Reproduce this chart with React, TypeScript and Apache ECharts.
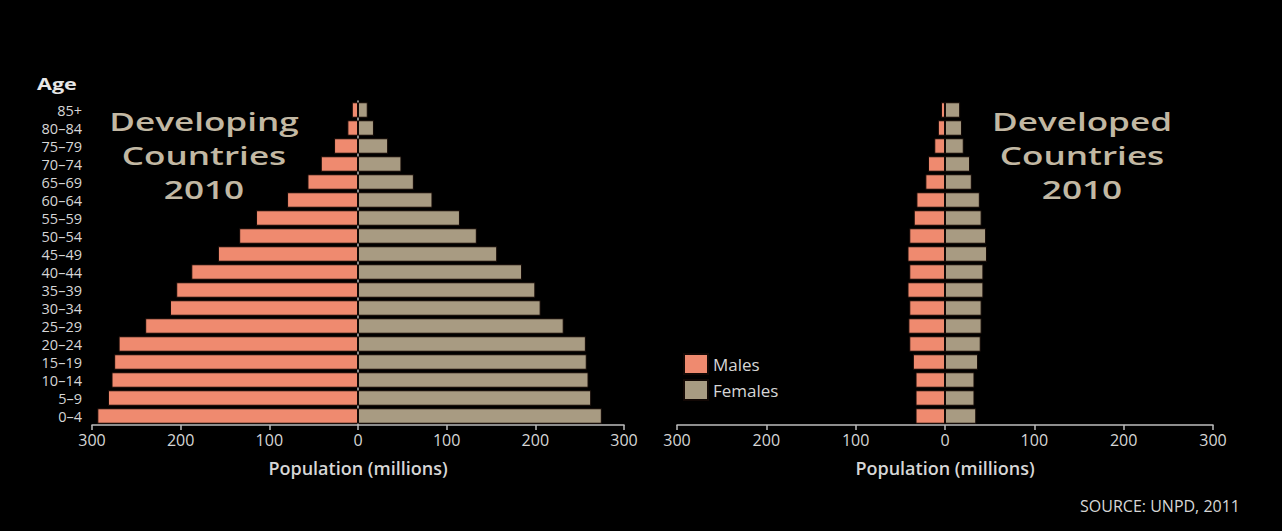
import React, { useEffect, useRef } from "react";
import * as echarts from "echarts";

const ageGroups = ["0–4", "5–9", "10–14", "15–19", "20–24", "25–29", "30–34", "35–39", "40–44", "45–49", "50–54", "55–59", "60–64", "65–69", "70–74", "75–79", "80–84", "85+"];
const developingMales = [294, 282, 278, 275, 270, 240, 212, 205, 188, 158, 134, 115, 80, 57, 42, 27, 12, 7];
const developingFemales = [275, 263, 260, 258, 257, 232, 206, 200, 185, 157, 134, 115, 84, 63, 49, 34, 18, 11];
const developedMales = [33, 33, 33, 36, 40, 41, 40, 42, 40, 42, 40, 35, 32, 22, 19, 12, 8, 4.5];
const developedFemales = [35, 33, 33, 37, 40, 41, 41, 43, 43, 47, 46, 41, 39, 30, 28, 21, 19, 17];
const xTicks = { min: -300, max: 300, interval: 100 };

const MALE = "#ef8a6f";
const FEMALE = "#a89b82";
const TEXT = "#d6d6d6";
const TITLE = "#c2b8a3";
const FONT = "'Open Sans', Lato, sans-serif";

export default function App() {
  const ref = useRef<HTMLDivElement>(null);
  useEffect(() => {
    document.body.style.margin = "0";
    document.body.style.background = "#000";
    const chart = echarts.init(ref.current!, null, { renderer: "svg" });
    const xAxisBase = (gridIndex: number) => ({
      type: "value",
      gridIndex,
      min: xTicks.min,
      max: xTicks.max,
      interval: xTicks.interval,
      name: "Population (millions)",
      nameLocation: "middle",
      nameGap: 34,
      nameTextStyle: { color: TEXT, fontSize: 18, fontWeight: 600, fontFamily: FONT },
      axisLine: { show: true, lineStyle: { color: "#bdbdbd", width: 1.5 } },
      axisTick: { show: true, length: 5, lineStyle: { color: "#bdbdbd", width: 1.5 } },
      axisLabel: { color: TEXT, fontSize: 16, fontFamily: FONT, margin: 7, formatter: (v: number) => String(Math.abs(v)) },
      splitLine: { show: false },
    });
    const barCommon = {
      type: "bar",
      barCategoryGap: "14%",
      itemStyle: { borderColor: "#120805", borderWidth: 1 },
    };
    const titleStyle = { fill: TITLE, fontSize: 26, lineHeight: 34, textAlign: "center", fontFamily: FONT, fontWeight: 600 };
    chart.setOption({
      animation: false,
      backgroundColor: "#000",
      textStyle: { fontFamily: FONT },
      grid: [
        { left: 92, right: 658, top: 101, bottom: 106 },
        { left: 677, right: 69, top: 101, bottom: 106 },
      ],
      xAxis: [xAxisBase(0), xAxisBase(1)],
      yAxis: [
        {
          type: "category",
          gridIndex: 0,
          data: ageGroups,
          axisLine: { show: true, lineStyle: { color: "#bdbdbd", width: 1.5 } },
          axisTick: { show: false },
          axisLabel: { color: TEXT, fontSize: 14.5, lineHeight: 16, fontFamily: FONT, margin: 10, interval: 0 },
        },
        { type: "category", gridIndex: 1, data: ageGroups, show: false },
      ],
      legend: {
        left: 683,
        top: 353,
        padding: 0,
        orient: "vertical",
        itemWidth: 24,
        itemHeight: 20,
        itemGap: 4,
        icon: "rect",
        data: ["Males", "Females"],
        textStyle: { color: TEXT, fontSize: 17, fontFamily: FONT },
      },
      graphic: [
        {
          type: "text",
          x: 37,
          y: 76,
          scaleX: 1.35,
          style: { text: "Age", fill: "#e6e6e6", fontSize: 16, fontWeight: "bold", fontFamily: FONT },
        },
        {
          type: "text",
          x: 204,
          y: 104,
          scaleX: 1.35,
          style: { text: "Developing\nCountries\n2010", ...titleStyle },
        },
        {
          type: "text",
          x: 1082,
          y: 104,
          scaleX: 1.35,
          style: { text: "Developed\nCountries\n2010", ...titleStyle },
        },
        {
          type: "text",
          right: 42,
          top: 498,
          style: { text: "SOURCE: UNPD, 2011", fill: TEXT, fontSize: 16, fontFamily: FONT },
        },
      ],
      series: [
        { ...barCommon, name: "Males", xAxisIndex: 0, yAxisIndex: 0, stack: "dev", data: developingMales.map((v) => -v), itemStyle: { ...barCommon.itemStyle, color: MALE } },
        { ...barCommon, name: "Females", xAxisIndex: 0, yAxisIndex: 0, stack: "dev", data: developingFemales, itemStyle: { ...barCommon.itemStyle, color: FEMALE } },
        { ...barCommon, name: "Males", xAxisIndex: 1, yAxisIndex: 1, stack: "dvd", data: developedMales.map((v) => -v), itemStyle: { ...barCommon.itemStyle, color: MALE } },
        { ...barCommon, name: "Females", xAxisIndex: 1, yAxisIndex: 1, stack: "dvd", data: developedFemales, itemStyle: { ...barCommon.itemStyle, color: FEMALE } },
      ],
    });
    return () => chart.dispose();
  }, []);
  return <div ref={ref} style={{ width: 1282, height: 531, background: "#000" }} />;
}
